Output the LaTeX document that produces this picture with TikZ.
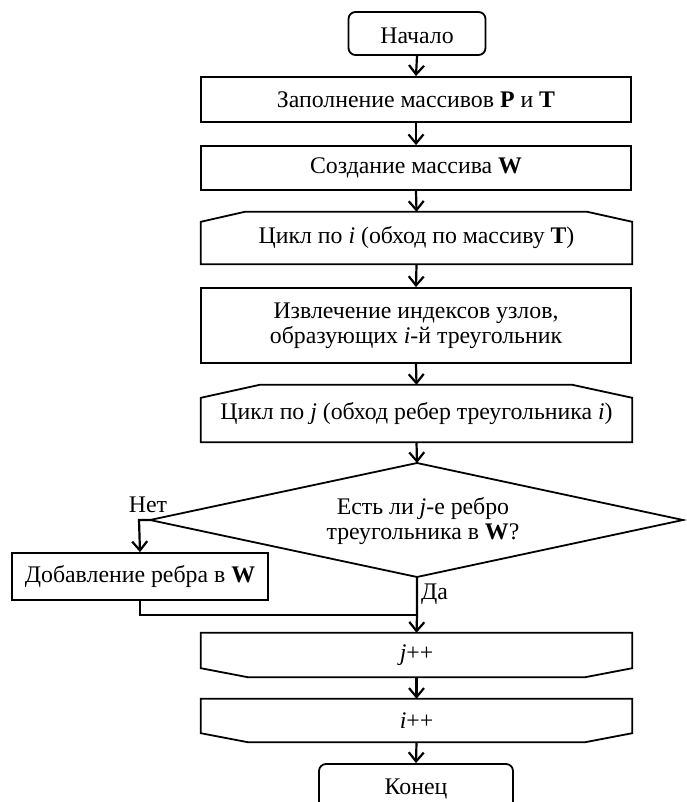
\documentclass[tikz,border=0pt]{standalone}
\usepackage{fontspec}
\setmainfont{Liberation Serif}
\usetikzlibrary{arrows.meta,calc}
\begin{document}
\begin{tikzpicture}[x=1pt,y=-1pt,
  every node/.style={font=\fontsize{23.8}{25}\selectfont, align=center, inner sep=0pt},
  boxline/.style={line width=1.8pt},
  conn/.style={line width=2.2pt, -{Straight Barb[length=9pt,width=15pt,line width=2.2pt]}},
  plain/.style={line width=2.2pt},
  proc/.style={draw, boxline, minimum width=430pt},
  term/.style={draw, boxline, rounded corners=7pt}
]
\useasboundingbox (0,0) rectangle (687,802);
\begin{scope}
\clip (0,0) rectangle (687,802);

% start
\node[term, minimum width=137pt, minimum height=43pt] (start) at (417,33.5) {};
\node at (417,36) {Начало};

% fill arrays
\node[proc, minimum height=45pt] (fill) at (416,99.5) {Заполнение массивов \textbf{P} и \textbf{T}};
% create W
\node[proc, minimum height=44pt] (create) at (416,168) {Создание массива \textbf{W}};

% loop i
\node[minimum width=431pt, minimum height=52pt] (loopi) at (416.5,238) {Цикл по \textit{i} (обход по массиву \textbf{T})};
\draw[boxline] ($(loopi.north west)+(0,10)$) -- ($(loopi.north west)+(44,0)$) -- ($(loopi.north east)+(-45,0)$) -- ($(loopi.north east)+(0,10)$) -- (loopi.south east) -- (loopi.south west) -- cycle;

% extract
\node[proc, minimum height=75pt] (extract) at (416,325.5) {Извлечение индексов узлов,\\образующих \textit{i}-й треугольник};

% loop j
\node[minimum width=431pt, minimum height=57pt] (loopj) at (416.5,413.5) {Цикл по \textit{j} (обход ребер треугольника \textit{i})};
\draw[boxline] ($(loopj.north west)+(0,13)$) -- ($(loopj.north west)+(59,0)$) -- ($(loopj.north east)+(-60,0)$) -- ($(loopj.north east)+(0,13)$) -- (loopj.south east) -- (loopj.south west) -- cycle;

% decision
\coordinate (dtop) at (417,463);
\coordinate (dleft) at (150,520);
\coordinate (dright) at (683,520);
\coordinate (dbot) at (417,577);
\draw[boxline] (dtop) -- (dright) -- (dbot) -- (dleft) -- cycle;
\node (dec) at (423,521) {Есть ли \textit{j}-е ребро\\треугольника в \textbf{W}?};

% add edge
\node[draw, boxline, minimum width=256pt, minimum height=47pt] (add) at (140,576.5) {Добавление ребра в \textbf{W}};

% j++
\node[minimum width=431pt, minimum height=44pt] (jpp) at (416.5,655) {\textit{j}++};
\draw[boxline] (jpp.north west) -- (jpp.north east) -- ($(jpp.south east)+(0,-9)$) -- ($(jpp.south east)+(-47,0)$) -- ($(jpp.south west)+(47,0)$) -- ($(jpp.south west)+(0,-9)$) -- cycle;

% i++
\node[minimum width=431pt, minimum height=43pt] (ipp) at (416.5,720.5) {\textit{i}++};
\draw[boxline] (ipp.north west) -- (ipp.north east) -- ($(ipp.south east)+(0,-9)$) -- ($(ipp.south east)+(-47,0)$) -- ($(ipp.south west)+(47,0)$) -- ($(ipp.south west)+(0,-9)$) -- cycle;

% end
\node[term, minimum width=194pt, minimum height=56pt] (finish) at (416,792) {};
\node at (416,789) {Конец};

% connectors
\draw[conn] (start.south) -- (fill.north);
\draw[conn] (fill.south) -- (create.north);
\draw[conn] (create.south) -- (loopi.north);
\draw[conn] (loopi.south) -- (extract.north);
\draw[conn] (extract.south) -- (loopj.north);
\draw[conn] (loopj.south) -- (dtop);
\coordinate (nbend) at (139,520);
\draw[conn] (dleft) -- (nbend) -- (add.north);
\node (no) at (148,505) {Нет};
\coordinate (merge) at (417,615);
\draw[plain] (add.south) |- (merge);
\draw[conn] (dbot) -- (merge) -- (jpp.north);
\node[anchor=west] (yes) at (421,594) {Да};
\draw[conn] (jpp.south) -- (ipp.north);
\draw[conn] (ipp.south) -- (finish.north);
\end{scope}
\end{tikzpicture}
\end{document}
